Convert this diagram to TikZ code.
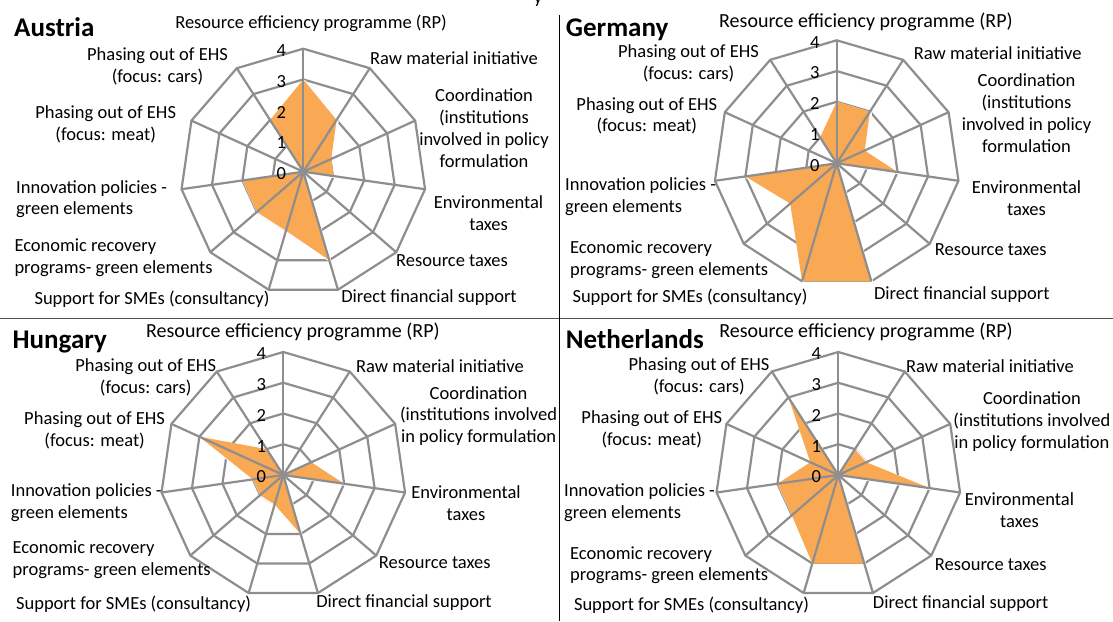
\documentclass[tikz,border=0pt]{standalone}
\usepackage{fontspec}
\setmainfont{Carlito}
\definecolor{gridc}{RGB}{142,142,142}
\definecolor{fillc}{RGB}{249,168,84}
\definecolor{sepc}{RGB}{80,80,80}
\tikzset{
  lbl/.style={font=\fontsize{18.5}{21.8}\selectfont, inner sep=0pt, align=center},
  biglbl/.style={font=\fontsize{20}{22}\selectfont, inner sep=0pt, align=center},
  lbll/.style={font=\fontsize{18.5}{21.8}\selectfont, inner sep=0pt, align=left, anchor=west},
  ttl/.style={font=\fontsize{27}{30}\selectfont\bfseries, inner sep=0pt, anchor=base west},
  ticklbl/.style={font=\fontsize{18.5}{21.8}\selectfont, inner sep=0pt},
  ring/.style={draw=gridc, line width=2.2pt, line join=miter},
  spoke/.style={draw=gridc, line width=2.2pt},
  area/.style={fill=fillc},
  shadowline/.style={draw=white, line width=1.6pt, line join=round},
  sepline/.style={line width=1.2pt},
}
\newcommand\radarchart[4]{%
  \begin{scope}[shift={(#1,#2)}]
    \foreach \lev in {1,2,3,4}
      \draw[ring] plot[samples at={0,...,10}, variable=\t]
        ({\lev*30.75*cos(90-\t*360/11)}, {-\lev*30.75*sin(90-\t*360/11)}) -- cycle;
    \foreach \v [count=\k from 0] in {#3}
      \coordinate (#4p\k) at ({\v*30.75*cos(90-\k*360/11)}, {-\v*30.75*sin(90-\k*360/11)});
    \begin{scope}[transform canvas={shift={(1.3,1.3)}}]
      \draw[shadowline] (#4p0) -- (#4p1) -- (#4p2) -- (#4p3) -- (#4p4) -- (#4p5)
        -- (#4p6) -- (#4p7) -- (#4p8) -- (#4p9) -- (#4p10) -- cycle;
    \end{scope}
    \fill[area] (#4p0) -- (#4p1) -- (#4p2) -- (#4p3) -- (#4p4) -- (#4p5)
        -- (#4p6) -- (#4p7) -- (#4p8) -- (#4p9) -- (#4p10) -- cycle;
    \foreach \t in {0,...,10}
      \draw[spoke] (0,0) -- ({123*cos(90-\t*360/11)}, {-123*sin(90-\t*360/11)});
    \fill[gridc] (0,0) circle (3.5);
    \foreach \lev in {0,...,4}
      \node[ticklbl] (#4tick\lev) at (-22, {-\lev*30.75+2}) {\lev};
  \end{scope}}

\begin{document}
\begin{tikzpicture}[x=1pt,y=-1pt]
\useasboundingbox (0,0) rectangle (1113,621);
\fill[white] (0,0) rectangle (1113,621);

% ---------- Austria ----------
\radarchart{303.3}{171.7}{3,2,1,1,0,3,2,2,2,0,2}{at}
\node[ttl] (atT) at (14,36.7) {Austria};
\node[lbl] (atRP) at (311,23.3) {Resource efficiency programme (RP)};
\node[lbl] (atRaw) at (454,58.3) {Raw material initiative};
\node[lbl] (atCo) at (484,128) {Coordination\\(institutions\\involved in policy\\formulation};
\node[lbl] (atEnv) at (488.6,213) {Environmental\\taxes};
\node[lbl] (atRes) at (452,261) {Resource taxes};
\node[lbl] (atDFS) at (429,297.7) {Direct financial support};
\node[lbl] (atSME) at (152,299) {Support for SMEs (consultancy)};
\node[lbll] (atEco) at (14.3,257.5) {Economic recovery\\programs- green elements};
\node[lbll] (atInn) at (16,199.2) {Innovation policies -\\green elements};
\node[lbl] (atMeat) at (105.7,124.7) {Phasing out of EHS\\(focus: meat)};
\node[lbl] (atCars) at (157.5,66.2) {Phasing out of EHS\\(focus: cars)};

% ---------- Germany ----------
\radarchart{836.7}{163.3}{2,2,1,2,0,4,4,2,3,0,1}{de}
\node[ttl] (deT) at (565.7,36.7) {Germany};
\node[biglbl] (deRP) at (865.9,21.7) {Resource efficiency programme (RP)};
\node[lbl] (deRaw) at (997.7,53.3) {Raw material initiative};
\node[lbl] (deCo) at (1026.5,113.3) {Coordination\\(institutions\\involved in policy\\formulation};
\node[lbl] (deEnv) at (1026.5,198.5) {Environmental\\taxes};
\node[lbl] (deRes) at (990.7,250) {Resource taxes};
\node[lbl] (deDFS) at (961.8,295) {Direct financial support};
\node[lbl] (deSME) at (690,297.7) {Support for SMEs (consultancy)};
\node[lbll] (deEco) at (570,260) {Economic recovery\\programs- green elements};
\node[lbll] (deInn) at (565,196.5) {Innovation policies -\\green elements};
\node[lbl] (deMeat) at (646.8,115.8) {Phasing out of EHS\\(focus: meat)};
\node[lbl] (deCars) at (688.5,63.2) {Phasing out of EHS\\(focus: cars)};

% ---------- Hungary ----------
\radarchart{283.3}{475}{0,0,1,2,0,2,1,1,1,3,1}{hu}
\node[ttl] (huT) at (12.5,348) {Hungary};
\node[biglbl] (huRP) at (292.9,331.7) {Resource efficiency programme (RP)};
\node[lbl] (huRaw) at (440,366) {Raw material initiative};
\node[lbl] (huCo) at (478.6,416) {Coordination\\(institutions involved\\in policy formulation};
\node[lbl] (huEnv) at (466,503.5) {Environmental\\taxes};
\node[lbl] (huRes) at (434.8,562.3) {Resource taxes};
\node[lbl] (huDFS) at (404,602.3) {Direct financial support};
\node[lbl] (huSME) at (133.6,604.3) {Support for SMEs (consultancy)};
\node[lbll] (huEco) at (12.5,559.7) {Economic recovery\\programs- green elements};
\node[lbll] (huInn) at (10.7,502.5) {Innovation policies -\\green elements};
\node[lbl] (huMeat) at (94.6,430) {Phasing out of EHS\\(focus: meat)};
\node[lbl] (huCars) at (145.7,377) {Phasing out of EHS\\(focus: cars)};

% ---------- Netherlands ----------
\radarchart{838.3}{475}{0,1,1,3,0,3,3,2,2,1,3}{nl}
\node[ttl] (nlT) at (565.7,348) {Netherlands};
\node[biglbl] (nlRP) at (866,331.7) {Resource efficiency programme (RP)};
\node[lbl] (nlRaw) at (990,366) {Raw material initiative};
\node[lbl] (nlCo) at (1031.9,421.7) {Coordination\\(institutions involved\\in policy formulation};
\node[lbl] (nlEnv) at (1019.4,509.8) {Environmental\\taxes};
\node[lbl] (nlRes) at (990.7,565) {Resource taxes};
\node[lbl] (nlDFS) at (960.7,603.3) {Direct financial support};
\node[lbl] (nlSME) at (691.5,605) {Support for SMEs (consultancy)};
\node[lbll] (nlEco) at (570,565.3) {Economic recovery\\programs- green elements};
\node[lbll] (nlInn) at (563.9,502.5) {Innovation policies -\\green elements};
\node[lbl] (nlMeat) at (651.8,429.2) {Phasing out of EHS\\(focus: meat)};
\node[lbl] (nlCars) at (699,376.5) {Phasing out of EHS\\(focus: cars)};

% ---------- separators ----------
\coordinate (vtop) at (559.3,15);
\coordinate (vbot) at (559.3,621);
\coordinate (hl) at (0,318.3);
\coordinate (hr) at (1113,318.3);
\draw[sepline, sepc] (hl) -- (hr);
\draw[sepline, black] (vtop) -- (vbot);

% clipped fragment of a line above
\begin{scope}
\clip (0,0) rectangle (1113,621);
\node[lbl, anchor=base] (frag) at (538,4) {y};
\end{scope}
\end{tikzpicture}
\end{document}
